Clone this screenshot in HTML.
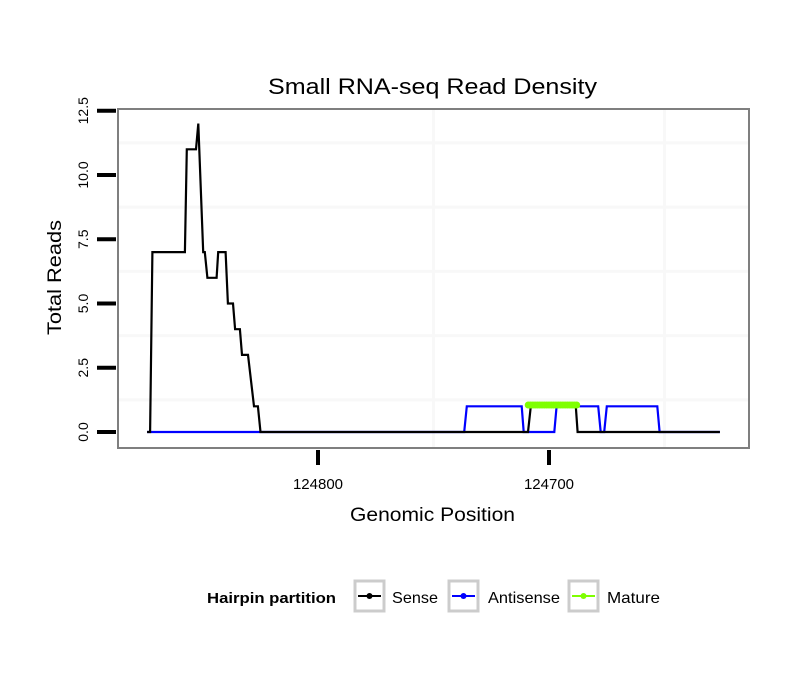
<!DOCTYPE html>
<html><head><meta charset="utf-8"><style>
body{margin:0;background:#fff}
svg{display:block;font-family:"Liberation Sans",sans-serif}
</style></head><body>
<svg width="810" height="690" viewBox="0 0 810 690">
<rect width="810" height="690" fill="#fff"/>
<g id="grid"></g>
<g id="series"></g>
<rect x="118" y="109" width="631" height="339" fill="none" stroke="#7f7f7f" stroke-width="2"/>
<g id="axes"></g>
<text x="268" y="94" textLength="329" lengthAdjust="spacingAndGlyphs" font-size="22">Small RNA-seq Read Density</text>
<text x="350" y="521" textLength="165" lengthAdjust="spacingAndGlyphs" font-size="19">Genomic Position</text>
<text transform="translate(61,335) rotate(-90)" textLength="115" lengthAdjust="spacingAndGlyphs" font-size="19">Total Reads</text>
<g>
<text x="207" y="603" textLength="129" lengthAdjust="spacingAndGlyphs" font-size="15" font-weight="bold">Hairpin partition</text>
<g>
<rect x="355" y="581" width="29" height="30" fill="#fff" stroke="#ccc" stroke-width="3"/>
<line x1="358" y1="596" x2="381" y2="596" stroke="#000" stroke-width="2"/><circle cx="369.5" cy="596" r="3" fill="#000"/>
<text x="392" y="603" textLength="46" lengthAdjust="spacingAndGlyphs" font-size="16">Sense</text></g>
<g>
<rect x="449" y="581" width="29" height="30" fill="#fff" stroke="#ccc" stroke-width="3"/>
<line x1="452" y1="596" x2="475" y2="596" stroke="#00f" stroke-width="2"/><circle cx="463.5" cy="596" r="3" fill="#00f"/>
<text x="488" y="603" textLength="72" lengthAdjust="spacingAndGlyphs" font-size="16">Antisense</text></g>
<g>
<rect x="569" y="581" width="29" height="30" fill="#fff" stroke="#ccc" stroke-width="3"/>
<line x1="572" y1="596" x2="595" y2="596" stroke="#7fff00" stroke-width="2"/><circle cx="583.5" cy="596" r="3" fill="#7fff00"/>
<text x="607" y="603" textLength="53" lengthAdjust="spacingAndGlyphs" font-size="16">Mature</text></g>
</g>
</svg>
<script>
const yTicks=[0,2.5,5,7.5,10,12.5];
const yTickLabels=["0.0","2.5","5.0","7.5","10.0","12.5"];
const xTicks=[124800,124700];
const xTickLabels=["124800","124700"];
const senseX=[124874.0,124872.7,124871.7,124857.6,124856.8,124852.8,124851.8,124849.7,124849.0,124847.9,124843.9,124843.2,124840.0,124839.0,124836.8,124835.9,124833.8,124832.9,124830.3,124827.7,124826.0,124824.9,124709.1,124707.9,124688.4,124687.6,124626.0];
const senseY=[0,0,7,7,11,11,12,7,7,6,6,7,7,5,5,4,4,3,3,1,1,0,0,1,1,0,0];
const antiX=[124874.0,124736.7,124735.6,124711.8,124710.95,124697.7,124696.7,124678.7,124677.6,124676.1,124675.0,124653.1,124652.1,124626.0];
const antiY=[0,0,1,1,0,0,1,1,0,0,1,1,0,0];
const matureX=[124709,124708,124707,124706,124705,124704,124703,124702,124701,124700,124699,124698,124697,124696,124695,124694,124693,124692,124691,124690,124689,124688];
const matureY=[1.05,1.05,1.05,1.05,1.05,1.05,1.05,1.05,1.05,1.05,1.05,1.05,1.05,1.05,1.05,1.05,1.05,1.05,1.05,1.05,1.05,1.05];

const NS="http://www.w3.org/2000/svg";
const xs=p=>318+(124800-p)*2.31;
const ys=v=>432-v*25.7;
function mk(t,a,parent){const e=document.createElementNS(NS,t);for(const k in a)e.setAttribute(k,a[k]);parent.appendChild(e);return e;}
const grid=document.getElementById('grid'),axes=document.getElementById('axes'),ser=document.getElementById('series');
for(let i=0;i<yTicks.length-1;i++){
  const m=mk('line',{x1:118,x2:749,y1:ys((yTicks[i]+yTicks[i+1])/2),y2:ys((yTicks[i]+yTicks[i+1])/2),stroke:'#f8f8f8','stroke-width':3},grid);
  
  
}
[124750,124650].forEach(p=>{const l=mk('line',{x1:xs(p),x2:xs(p),y1:109,y2:448,stroke:'#f8f8f8','stroke-width':3},grid);

});
yTicks.forEach((v,i)=>{
  const t=mk('line',{x1:97,x2:116,y1:ys(v),y2:ys(v),stroke:'#000','stroke-width':4},axes);
  
  
  const tx=mk('text',{transform:`translate(${88},${ys(v)}) rotate(-90)`,'text-anchor':'middle','font-size':14},axes);
  tx.textContent=yTickLabels[i];
  
  
});
xTicks.forEach((p,i)=>{
  const t=mk('line',{x1:xs(p),x2:xs(p),y1:450,y2:465,stroke:'#000','stroke-width':4},axes);
  
  
  const tx=mk('text',{x:xs(p),y:489,'text-anchor':'middle','font-size':15},axes);
  tx.textContent=xTickLabels[i];
  
  
});
function line(X,Y,col,w,name){
  const pts=X.map((p,i)=>xs(p).toFixed(1)+','+ys(Y[i]).toFixed(1)).join(' ');
  const pl=mk('polyline',{points:pts,fill:'none',stroke:col,'stroke-width':w,'stroke-linejoin':'miter'},ser);
  
  
}
line(antiX,antiY,'#0000ff',2.2,'antisense-line');
line(senseX,senseY,'#000',2.2,'sense-line');
line(matureX,matureY,'#7fff00',3,'mature-line');
matureX.forEach((p,i)=>{const c=mk('circle',{cx:xs(p),cy:ys(matureY[i]),r:3.5,fill:'#7fff00'},ser);

});
</script>
</body></html>
